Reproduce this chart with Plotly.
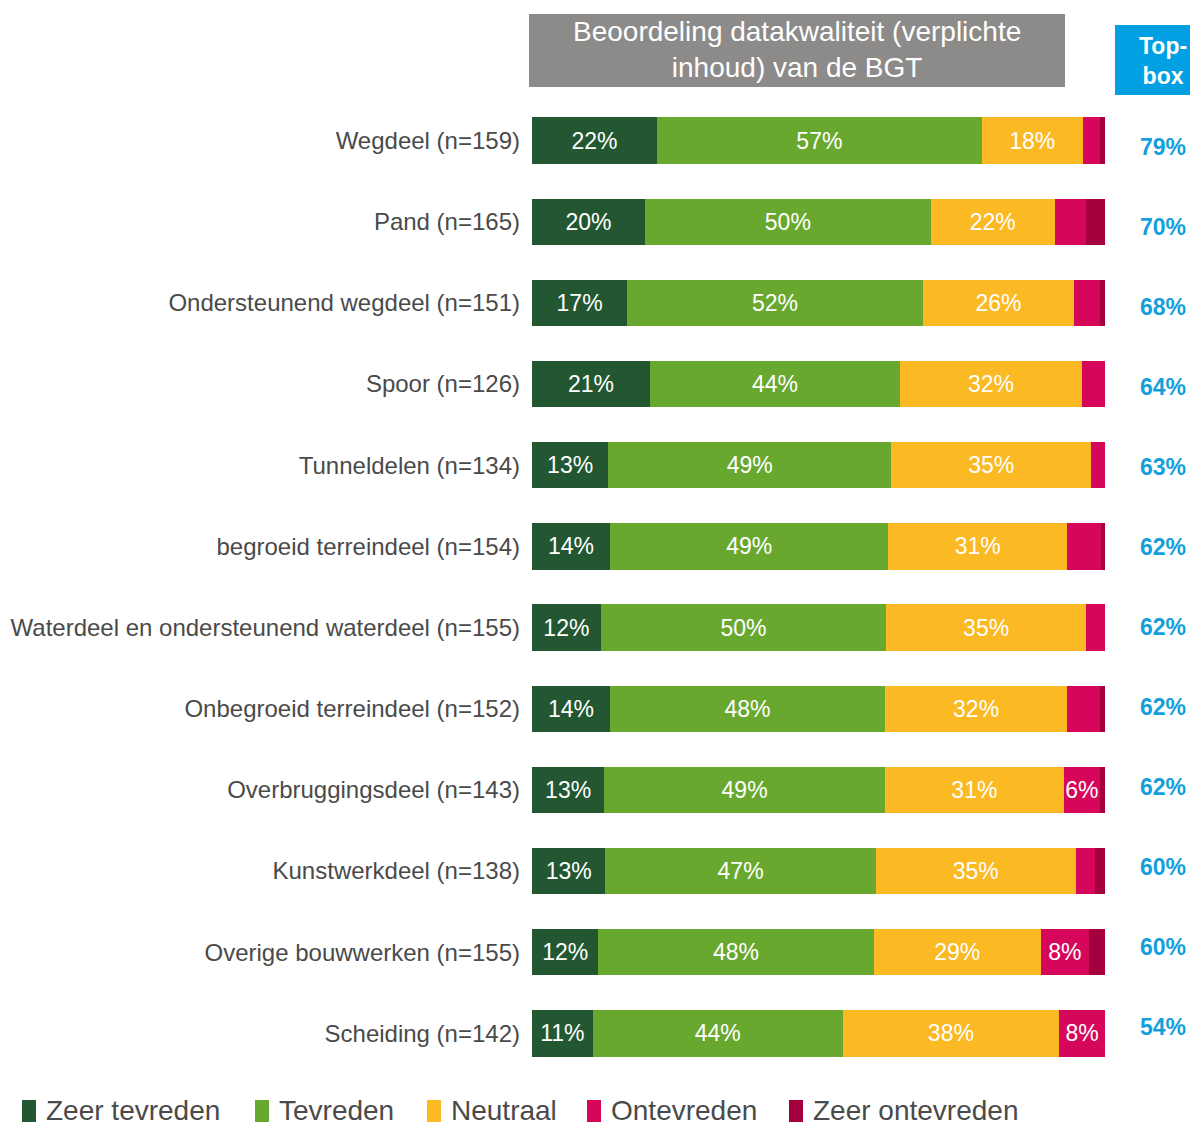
import plotly.graph_objects as go

categories = [
    "Wegdeel (n=159)",
    "Pand (n=165)",
    "Ondersteunend wegdeel (n=151)",
    "Spoor (n=126)",
    "Tunneldelen (n=134)",
    "begroeid terreindeel (n=154)",
    "Waterdeel en ondersteunend waterdeel (n=155)",
    "Onbegroeid terreindeel (n=152)",
    "Overbruggingsdeel (n=143)",
    "Kunstwerkdeel (n=138)",
    "Overige bouwwerken (n=155)",
    "Scheiding (n=142)",
]

zeer_tevreden = [21.8, 19.7, 16.6, 20.6, 13.3, 13.6, 12.0, 13.6, 12.6, 12.8, 11.6, 10.6]
tevreden = [56.7, 49.9, 51.6, 43.6, 49.4, 48.6, 49.8, 48.0, 49.0, 47.2, 48.0, 43.6]
neutraal = [17.6, 21.6, 26.4, 31.8, 34.9, 31.2, 34.9, 31.8, 31.2, 34.9, 29.2, 37.8]
ontevreden = [3.1, 5.4, 4.5, 4.0, 2.4, 5.9, 3.3, 5.7, 6.3, 3.3, 8.4, 8.0]
zeer_ontevreden = [0.8, 3.4, 0.9, 0.0, 0.0, 0.7, 0.0, 0.9, 0.9, 1.8, 2.8, 0.0]

topbox = [79, 70, 68, 64, 63, 62, 62, 62, 62, 60, 60, 54]

series_names = ["Zeer tevreden", "Tevreden", "Neutraal", "Ontevreden", "Zeer ontevreden"]
series_values = [zeer_tevreden, tevreden, neutraal, ontevreden, zeer_ontevreden]
series_colors = ["#225732", "#69a82f", "#fbb923", "#d6075b", "#a5003e"]

title_lines = "Beoordeling datakwaliteit (verplichte<br>inhoud) van de BGT"
topbox_title = "Top-<br>box"

W, H = 1190, 1122
ML, MT = 532, 100
PW, PH = 573, 974
MR, MB = W - ML - PW, H - MT - PH


def px_x(px):
    return (px - ML) / PW


def px_y(py):
    return (MT + PH - py) / PH


FONT = "Liberation Sans, Arial, sans-serif"
TEXT_COLOR = "#4a4a4a"

fig = go.Figure()
for name, vals, col in zip(series_names, series_values, series_colors):
    labels = [f"{round(v)}%" if v >= 6 else "" for v in vals]
    fig.add_trace(go.Bar(
        name=name,
        y=categories,
        x=vals,
        orientation="h",
        marker=dict(color=col, line=dict(width=0)),
        text=labels,
        textposition="inside",
        insidetextanchor="middle",
        textangle=0,
        textfont=dict(color="white", size=23, family=FONT),
        showlegend=False,
        hoverinfo="x+y+name",
    ))

annotations = []
# top-box values (column slightly more compact than the bar rows)
n = len(categories)
for i, (cat, tb) in enumerate(zip(categories, topbox)):
    annotations.append(dict(
        x=px_x(1163), xref="paper", y=cat, yref="y",
        yshift=-(6 - 12 * i / (n - 1)),
        text=f"<b>{tb}%</b>", showarrow=False, xanchor="center", yanchor="middle",
        font=dict(color="#139fdc", size=23, family=FONT),
    ))

shapes = []
# header boxes
shapes.append(dict(type="rect", xref="paper", yref="paper",
                   x0=px_x(529), x1=px_x(1065), y0=px_y(87), y1=px_y(14),
                   fillcolor="#8c8b8a", line=dict(width=0), layer="below"))
annotations.append(dict(x=px_x(797), y=px_y(50), xref="paper", yref="paper",
                        text=title_lines, showarrow=False, xanchor="center", yanchor="middle",
                        font=dict(color="white", size=28, family=FONT)))
shapes.append(dict(type="rect", xref="paper", yref="paper",
                   x0=px_x(1115), x1=px_x(1195), y0=px_y(95), y1=px_y(25),
                   fillcolor="#00a0e3", line=dict(width=0), layer="below"))
annotations.append(dict(x=px_x(1163), y=px_y(61), xref="paper", yref="paper",
                        text=f"<b>{topbox_title}</b>", showarrow=False, xanchor="center", yanchor="middle",
                        font=dict(color="white", size=23, family=FONT)))

# custom legend
legend_square_px = [22, 255, 427, 587, 789]
for name, col, sx in zip(series_names, series_colors, legend_square_px):
    shapes.append(dict(type="rect", xref="paper", yref="paper",
                       x0=px_x(sx), x1=px_x(sx + 14), y0=px_y(1124), y1=px_y(1100),
                       fillcolor=col, line=dict(width=0)))
    annotations.append(dict(x=px_x(sx + 22), y=px_y(1110), xref="paper", yref="paper",
                            text=name, showarrow=False, xanchor="left", yanchor="middle",
                            font=dict(color=TEXT_COLOR, size=28, family=FONT)))

fig.update_layout(
    width=W, height=H,
    margin=dict(l=ML, r=MR, t=MT, b=MB, pad=0, autoexpand=False),
    barmode="stack",
    bargap=0.43,
    plot_bgcolor="white",
    paper_bgcolor="white",
    font=dict(family=FONT, color=TEXT_COLOR, size=24),
    uniformtext=dict(minsize=23, mode="show"),
    xaxis=dict(range=[0, 100], visible=False, fixedrange=True, automargin=False),
    yaxis=dict(autorange="reversed", showgrid=False, zeroline=False, showline=False,
               ticks="", ticklabelstandoff=11, automargin=False,
               tickfont=dict(size=24, color=TEXT_COLOR, family=FONT)),
    annotations=annotations,
    shapes=shapes,
)

fig.write_html(
    "out.html",
    config={"displayModeBar": False},
    post_script="document.body.style.margin='0';document.body.style.overflow='hidden';"
                "document.documentElement.style.overflow='hidden';",
)
